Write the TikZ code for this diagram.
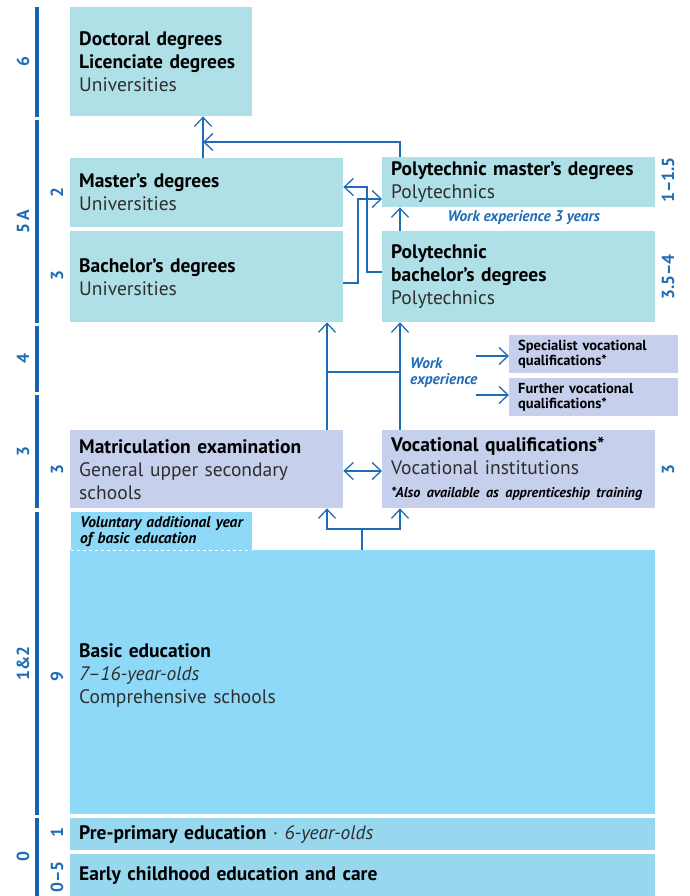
\documentclass[tikz,border=0pt]{standalone}
\usepackage{fontspec}
\setmainfont{PT Sans}
\usetikzlibrary{arrows.meta,positioning}
\definecolor{uniteal}{HTML}{B0E0E7}
\definecolor{voclav}{HTML}{C6D0EC}
\definecolor{basicsky}{HTML}{8FD9F8}
\definecolor{presky}{HTML}{97D8EF}
\definecolor{pathblue}{HTML}{1F6CB6}
\definecolor{barblue}{HTML}{1463B3}
\definecolor{txtgray}{HTML}{2E2E2E}
\tikzset{font=\fontsize{19.5}{23}\selectfont}
\tikzset{
  box/.style n args={3}{rectangle, fill=#1, anchor=north west, inner xsep=9pt,
    inner ysep=0pt, minimum width=#2, minimum height=#3,
    text width=#2-18pt, align=left},
  smallbox/.style={font=\fontsize{14.5}{15}\selectfont\bfseries},
  years/.style={rotate=90, text=pathblue, font=\fontsize{17.5}{17.5}\selectfont\bfseries},
  note/.style={text=pathblue, font=\fontsize{15.4}{16}\selectfont\bfseries\itshape, align=left},
  flow/.style={draw=pathblue, line width=1.3pt},
  tip/.style={-{Straight Barb[length=9pt,width=17pt]}},
  tips/.style={{Straight Barb[length=9pt,width=17pt]}-{Straight Barb[length=9pt,width=17pt]}}
}
\newcommand{\sub}[1]{{\color{txtgray}#1}}

\begin{document}
\begin{tikzpicture}[x=1pt,y=-1pt]
  \useasboundingbox (0,0) rectangle (689,896);

  % levels on the left
  \foreach \top/\bot/\lvl [count=\i] in {7/117/6, 120/323/5\,A, 326/392/4,
      395/508/3, 512/815/1\&2, 818/896/0}{
    \fill[barblue] (35,\top) rectangle (39,\bot);
    \node[years] (lvl\i) at (23,{(\top+\bot)/2}) {\lvl};
  };

  % boxes
  \node[box={uniteal}{182}{109}] (doct) at (70,7)
    {\textbf{Doctoral degrees}\\\textbf{Licenciate degrees}\\\sub{Universities}};
  \node[box={uniteal}{273}{69}] (master) at (70,158)
    {\textbf{Master’s degrees}\\\sub{Universities}};
  \node[box={uniteal}{273}{91}] (bach) at (70,231)
    {\textbf{Bachelor’s degrees}\\\sub{Universities}};
  \node[box={uniteal}{273}{50}] (pmaster) at (382,157)
    {\textbf{Polytechnic master’s degrees}\\\sub{Polytechnics}};
  \node[box={uniteal}{273}{91}] (pbach) at (382,231)
    {\textbf{Polytechnic}\\\textbf{bachelor’s degrees}\\\sub{Polytechnics}};
  \node[box={voclav}{169}{38}, smallbox] (spec) at (509,335)
    {Specialist vocational\\qualifications*};
  \node[box={voclav}{169}{38}, smallbox] (furth) at (509,378)
    {Further vocational\\qualifications*};
  \node[box={voclav}{273}{78}] (matr) at (70,430)
    {\textbf{Matriculation examination}\\\sub{General upper secondary}\\\sub{schools}};
  \node[box={voclav}{273}{78}] (voc) at (382,430)
    {\textbf{Vocational qualifications*}\\\sub{Vocational institutions}\\
     {\fontsize{14.2}{16}\selectfont\bfseries\itshape\mbox{*Also available as apprenticeship training}}};
  \node[box={basicsky}{181}{38}, font=\fontsize{15.5}{16}\selectfont\bfseries\itshape] (volun) at (71,512)
    {Voluntary additional year\\of basic education};
  \node[box={basicsky}{585}{264}] (basic) at (70,550)
    {\textbf{Basic education}\\\sub{\itshape 7–16-year-olds}\\\sub{Comprehensive schools}\\[-5pt]\mbox{}};
  \node[box={presky}{585}{32}] (prep) at (70,818)
    {\textbf{Pre-primary education} \sub{· \itshape 6-year-olds}};
  \node[box={presky}{585}{42}] (early) at (70,854)
    {\textbf{Early childhood education and care}};
  \draw[white, line width=1.2pt, dashed] (volun.south west) -- (volun.south east);

  % duration in years
  \node[years] (ymaster) at (57,193) {2};
  \node[years] (ybach) at (57,276) {3};
  \node[years] (ymatr) at (57,470) {3};
  \node[years] (ybasic) at (57,677) {9};
  \node[years] (yprep) at (57,833) {1};
  \node[years] (yearly) at (57,877) {0–5};
  \node[years] (ypmaster) at (668,180) {1–1.5};
  \node[years] (ypbach) at (668,277) {3.5–4};
  \node[years] (yvoc) at (668,470) {3};

  % notes
  \node[note, anchor=west] (wexp3) at (444,218) {Work experience 3 years};
  \node[note, anchor=north west, inner sep=0pt] (wexp) at (410,358) {Work\\experience};

  % paths
  \draw[flow, tip] (master.north -| 203,0) -- (doct.south -| 203,0);
  \draw[flow, tip] (pmaster.north -| 400,0) |- (203,142);
  \draw[flow, tip] (pbach.west |- 0,272) -| (367,187) -- (master.east |- 0,187);
  \draw[flow, tip] (bach.east |- 0,283) -| (358,199) -- (pmaster.west |- 0,199);
  \draw[flow, tip] (pbach.north -| 400,0) -- (pmaster.south -| 400,0);
  \draw[flow, tip] (matr.north -| 327,0) -- (bach.south -| 327,0);
  \draw[flow, tip] (voc.north -| 400,0) -- (pbach.south -| 400,0);
  \draw[flow] (327,372) -- (400,372);
  \draw[flow, tip] (476,356) -- (spec.west |- 0,356);
  \draw[flow, tip] (476,395) -- (furth.west |- 0,395);
  \draw[flow, tips] (matr.east |- 0,471) -- (voc.west |- 0,471);
  \draw[flow] (basic.north -| 362,0) -- (362,529);
  \draw[flow, tip] (362,529) -| (matr.south -| 327,0);
  \draw[flow, tip] (362,529) -| (voc.south -| 400,0);
\end{tikzpicture}
\end{document}
